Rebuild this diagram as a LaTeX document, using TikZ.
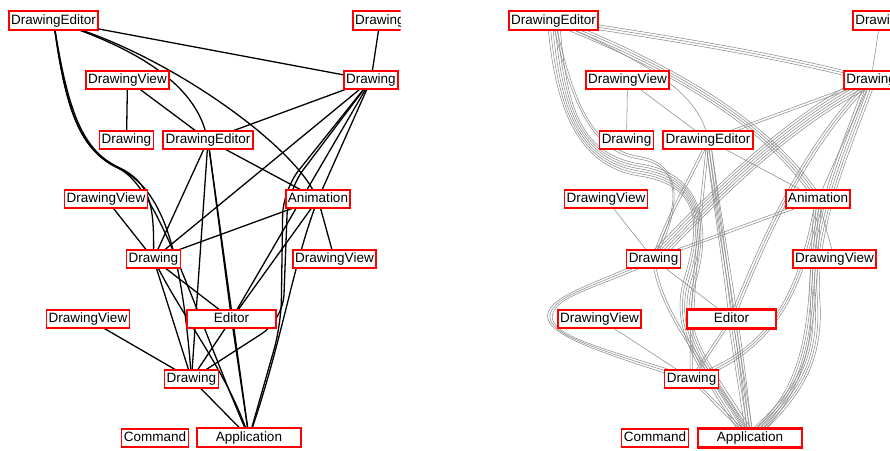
\documentclass[tikz,border=0pt]{standalone}
\usepackage{fontspec}
\setmainfont{Liberation Sans}
\usetikzlibrary{calc}
\definecolor{boxred}{RGB}{255,0,0}
\tikzset{
 nb/.style={draw=none, fill=white, text=black, outer sep=0pt, inner xsep=2.3pt, inner ysep=0pt,
   minimum height=18.5pt, text height=9.8pt, text depth=2.8pt,
   font=\fontsize{13.5pt}{15pt}\selectfont},
 ghostbox/.style={nb, fill=none},
 frame/.style={draw=boxred, line width=1.8pt},
 thickframe/.style={draw=boxred, line width=2.8pt},
 edge/.style={draw=black, line width=1.3pt},
 strand/.style={draw=black!45, line width=0.55pt},
}
% bundle of #1 parallel strands along one cubic segment
\newcommand\bseg[5]{%
  \foreach \i in {1,...,#1}{%
    \pgfmathsetmacro\bd{(\i-(#1+1)/2)*2.4}%
    \draw[strand] ($#2!\bd pt!90:#3$) .. controls ($#3!\bd pt!-90:#2$) and ($#4!\bd pt!90:#5$) .. ($#5!\bd pt!-90:#4$);
  }}
% bundle of #1 parallel straight strands
\newcommand\bline[3]{%
  \foreach \i in {1,...,#1}{%
    \pgfmathsetmacro\bd{(\i-(#1+1)/2)*2.4}%
    \draw[strand] ($#2!\bd pt!90:#3$) -- ($#3!\bd pt!-90:#2$);
  }}
% node list: \mk{name}{position}{text}{options}
\newcommand\leftnodes{%
  \mk{lA}{53.5,20.5}{DrawingEditor}{}
  \mk{lB}{380,20.5}{Drawing}{}
  \mk{lC}{371,80}{Drawing}{}
  \mk{lD}{127.5,80}{DrawingView}{}
  \mk{lE}{126.5,140}{Drawing}{}
  \mk{lF}{208,140}{DrawingEditor}{}
  \mk{lG}{106,199}{DrawingView}{}
  \mk{lH}{318,199}{Animation}{}
  \mk{lI}{153.5,259}{Drawing}{}
  \mk{lJ}{334.5,259}{DrawingView}{}
  \mk{lK}{88,319}{DrawingView}{}
  \mk{lL}{231.5,319}{Editor}{minimum width=89pt}
  \mk{lM}{191.5,379}{Drawing}{}
  \mk{lN}{155,438}{Command}{}
  \mk{lO}{249,437.5}{Application}{minimum width=104pt}}
\newcommand\rightnodes{%
  \mk{rA}{553.5,20.5}{DrawingEditor}{}
  \mk{rB}{880,20.5}{Drawing}{}
  \mk{rC}{871,80}{Drawing}{}
  \mk{rD}{627.5,80}{DrawingView}{}
  \mk{rE}{626.5,140}{Drawing}{}
  \mk{rF}{708,140}{DrawingEditor}{}
  \mk{rG}{606,199}{DrawingView}{}
  \mk{rH}{818,199}{Animation}{}
  \mk{rI}{653.5,259}{Drawing}{}
  \mk{rJ}{834.5,259}{DrawingView}{}
  \mk{rK}{599.5,319}{DrawingView}{}
  \mk{rL}{731.5,319}{Editor}{minimum width=89pt}
  \mk{rM}{691.5,379}{Drawing}{}
  \mk{rN}{655,438}{Command}{}
  \mk{rO}{750,438}{Application}{minimum width=104pt}}
% first pass: invisible placeholders that give the nodes their names and borders
\newcommand\ghostnode[4]{\node[ghostbox,#4] (#1) at (#2) {\phantom{#3}};}
% second pass: the visible white boxes with their texts, on top of the connectors
\newcommand\realnode[4]{\node[nb,#4] (#1box) at (#1.center) {#3};}
\begin{document}
\begin{tikzpicture}[x=1pt,y=-1pt]
\useasboundingbox (0,0) rectangle (890,450);
\let\mk\ghostnode
\leftnodes
\rightnodes
% ---------------- left panel: plain black edges
\draw[edge] (lB) -- (lC);
\draw[edge] (lA) -- (lC);
\draw[edge] (lA) .. controls (160,60) and (195,95) .. (lF);
\draw[edge] (lA) .. controls (175,62) and (285,140) .. (lH);
\draw[edge] (lA) .. controls (68,110) and (82,150) .. (118,167) .. controls (150,182) and (154,205) .. (lI);
\draw[edge] (lA) .. controls (66,110) and (80,150) .. (118,168) .. controls (158,187) and (180,235) .. (lM);
\draw[edge] (lA) .. controls (66,110) and (80,150) .. (118,168) .. controls (158,187) and (190,300) .. (lO);
\draw[edge] (lD) -- (lE);
\draw[edge] (lD) -- (lF);
\draw[edge] (lC) -- (lF);
\draw[edge] (lC) -- (lI);
\draw[edge] (lC) -- (lL);
\draw[edge] (lC) -- (lH);
\draw[edge,rounded corners=25pt] (lC) -- (283,190) -- (281,325) -- (lO);
\draw[edge,rounded corners=25pt] (lC) -- (288,190) -- (283,320) -- (lM);
\draw[edge] (lG) -- (lI);
\draw[edge] (lH) -- (lJ);
\draw[edge] (lH) -- (lI);
\draw[edge] (lH) -- (lL);
\draw[edge] (lH) .. controls (292,270) and (282,340) .. (lO);
\draw[edge] (lK) -- (lM);
\draw[edge] (lI) -- (lL);
\draw[edge] (lI) -- (lM);
\draw[edge] (lI) .. controls (185,320) and (225,370) .. (lO);
\draw[edge] (lL) -- (lM);
\draw[edge] (lL) -- (lO);
\draw[edge] (lM) -- (lO);
\draw[edge] (lF) -- (lI);
\draw[edge] (lF) -- (lM);
\draw[edge] (lF) -- (lO);
\draw[edge] (lF) -- (lL);
\draw[edge] (lF) -- (lH);
% ---------------- right panel: bundled edges
\bline{1}{(rB)}{(rC)}
\bseg{3}{(rA)}{(650,35)}{(780,55)}{(rC)}
\bseg{4}{(rA)}{(640,55)}{(760,110)}{(rH)}
\bseg{1}{(rA)}{(640,60)}{(700,90)}{(rF)}
\bseg{6}{(rA)}{(560,100)}{(575,160)}{(640,170)}
\bseg{6}{(640,170)}{(705,180)}{(705,230)}{(690,280)}
\bseg{6}{(690,280)}{(675,330)}{(700,360)}{(rO)}
\bseg{2}{(rA)}{(572,100)}{(590,150)}{(640,158)}
\bseg{2}{(640,158)}{(690,166)}{(675,220)}{(rI)}
\bline{2}{(rC)}{(rF)}
\bseg{6}{(rC)}{(790,120)}{(720,190)}{(rI)}
\bseg{5}{(rC)}{(845,150)}{(810,230)}{(815,300)}
\bseg{5}{(815,300)}{(820,370)}{(790,400)}{(rO)}
\bseg{3}{(rC)}{(800,150)}{(760,250)}{(rL)}
\bline{1}{(rC)}{(rH)}
\bline{1}{(rD)}{(rE)}
\bline{1}{(rD)}{(rF)}
\bline{1}{(rF)}{(rH)}
\bseg{3}{(rF)}{(715,200)}{(725,260)}{(rL)}
\bseg{2}{(rF)}{(700,220)}{(690,300)}{(rM)}
\bseg{3}{(rF)}{(720,230)}{(740,330)}{(rO)}
\bseg{2}{(rF)}{(690,180)}{(665,220)}{(rI)}
\bline{1}{(rG)}{(rI)}
\bline{1}{(rH)}{(rJ)}
\bline{2}{(rH)}{(rI)}
\bseg{3}{(rH)}{(800,300)}{(770,350)}{(rM)}
\bseg{4}{(rH)}{(810,300)}{(820,380)}{(rO)}
\bline{1}{(rI)}{(rL)}
\bseg{3}{(rI)}{(600,285)}{(553,295)}{(550,315)}
\bseg{3}{(550,315)}{(547,335)}{(600,350)}{(rM)}
\bseg{2}{(rI)}{(660,320)}{(720,380)}{(rO)}
\bline{1}{(rK)}{(rM)}
\bline{2}{(rL)}{(rM)}
\bline{4}{(rL)}{(rO)}
\bline{2}{(rM)}{(rO)}
% ---------------- visible node boxes on top, then their red frames
\let\mk\realnode
\begin{scope}
\clip (0,0) rectangle (400.5,450);
\leftnodes
\draw[frame] \foreach \n in {lA,lB,lC,lD,lE,lF,lG,lH,lI,lJ,lK,lL,lM,lN,lO}
  {(\n box.south west) rectangle (\n box.north east)};
\end{scope}
\rightnodes
\draw[frame] \foreach \n in {rA,rB,rC,rD,rE,rF,rG,rH,rI,rJ,rK,rM,rN}
  {(\n box.south west) rectangle (\n box.north east)};
\draw[thickframe] \foreach \n in {rL,rO}
  {(\n box.south west) rectangle (\n box.north east)};
\end{tikzpicture}
\end{document}
